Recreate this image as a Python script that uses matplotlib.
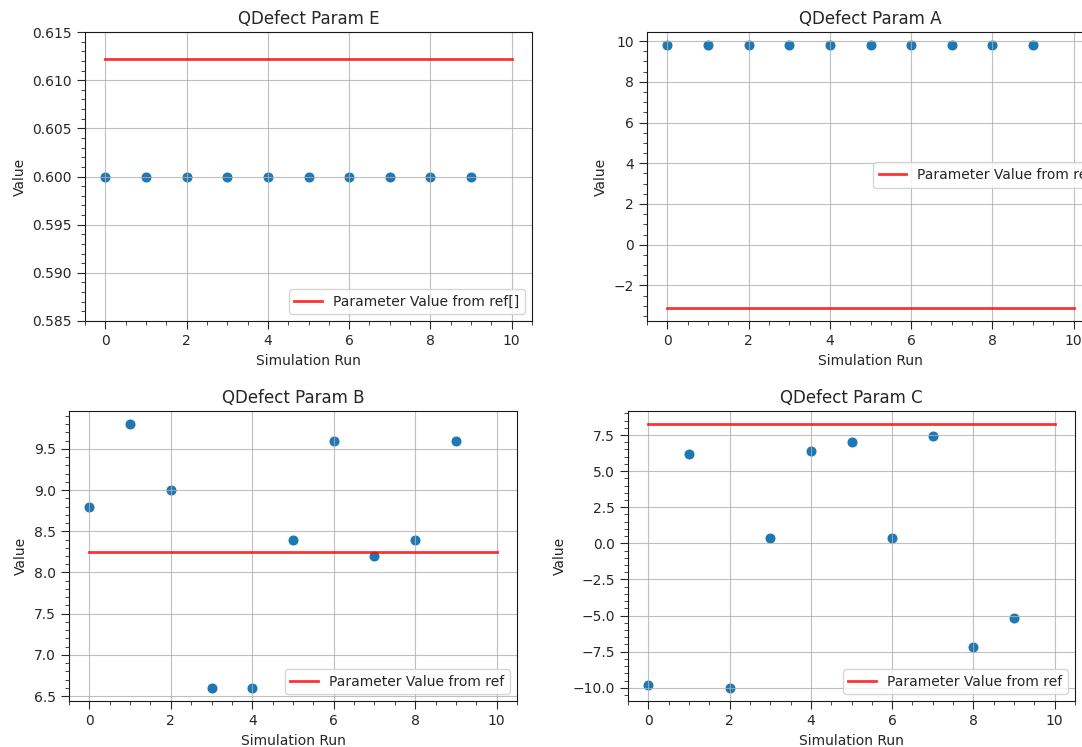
import matplotlib
matplotlib.use("Agg")
import matplotlib.pyplot as plt
from matplotlib.ticker import AutoMinorLocator

# simulation runs and the reference line span
runs = [0, 1, 2, 3, 4, 5, 6, 7, 8, 9]
ref_span = [0, 10]

# QDefect params
param_E = [0.6, 0.6, 0.6, 0.6, 0.6, 0.6, 0.6, 0.6, 0.6, 0.6]
param_A = [9.8, 9.8, 9.8, 9.8, 9.8, 9.8, 9.8, 9.8, 9.8, 9.8]
param_B = [8.8, 9.8, 9.0, 6.6, 6.6, 8.4, 9.6, 8.2, 8.4, 9.6]
param_C = [-9.8, 6.2, -10.0, 0.4, 6.4, 7.0, 0.4, 7.4, -7.2, -5.2]

ref_E = 0.6122
ref_A = -3.1
ref_B = 8.25
ref_C = 8.25

plt.rcParams['font.family'] = ['DejaVu Sans']
plt.rcParams['font.size'] = 10
plt.rcParams['text.color'] = '.15'
plt.rcParams['axes.labelcolor'] = '.15'
plt.rcParams['xtick.color'] = '.15'
plt.rcParams['ytick.color'] = '.15'
plt.rcParams['xtick.major.size'] = 6
plt.rcParams['ytick.major.size'] = 6
plt.rcParams['xtick.minor.size'] = 3
plt.rcParams['ytick.minor.size'] = 3

fig = plt.figure(figsize=(10.82, 7.47), dpi=100)
W, H = 1082, 747


def make_axes(left, top, right, bottom):
    return fig.add_axes([left / W, (H - bottom) / H, (right - left) / W, (bottom - top) / H])


panels = [
    (make_axes(85, 32, 532, 321), param_E, ref_E, 'QDefect Param E', 'Parameter Value from ref[]'),
    (make_axes(647, 32, 1094, 321), param_A, ref_A, 'QDefect Param A', 'Parameter Value from ref'),
    (make_axes(69, 411, 517, 701), param_B, ref_B, 'QDefect Param B', 'Parameter Value from ref'),
    (make_axes(628, 411, 1075, 701), param_C, ref_C, 'QDefect Param C', 'Parameter Value from ref'),
]

for ax, vals, ref, title, lab in panels:
    ax.scatter(runs, vals, s=62, color='#1f77b4', edgecolors='white', linewidths=0.6)
    ax.plot(ref_span, [ref, ref], color='red', alpha=0.8, lw=2, label=lab)
    ax.set_title(title, fontsize=12)
    ax.set_xlabel('Simulation Run')
    ax.set_ylabel('Value')
    ax.grid(True, color='#b0b0b0', lw=0.8, alpha=0.8)
    ax.xaxis.set_minor_locator(AutoMinorLocator())
    ax.yaxis.set_minor_locator(AutoMinorLocator())
    ax.tick_params(which='both', direction='out', top=False, right=False)
    for sp in ax.spines.values():
        sp.set_color('.1')

panels[0][0].set_ylim(0.585, 0.615)

panels[0][0].legend(loc='lower right')
panels[1][0].legend(loc='center left', bbox_to_anchor=(0.49, 0.505))
panels[2][0].legend(loc='lower right')
panels[3][0].legend(loc='lower right')

fig.savefig('out.png', dpi=100)
